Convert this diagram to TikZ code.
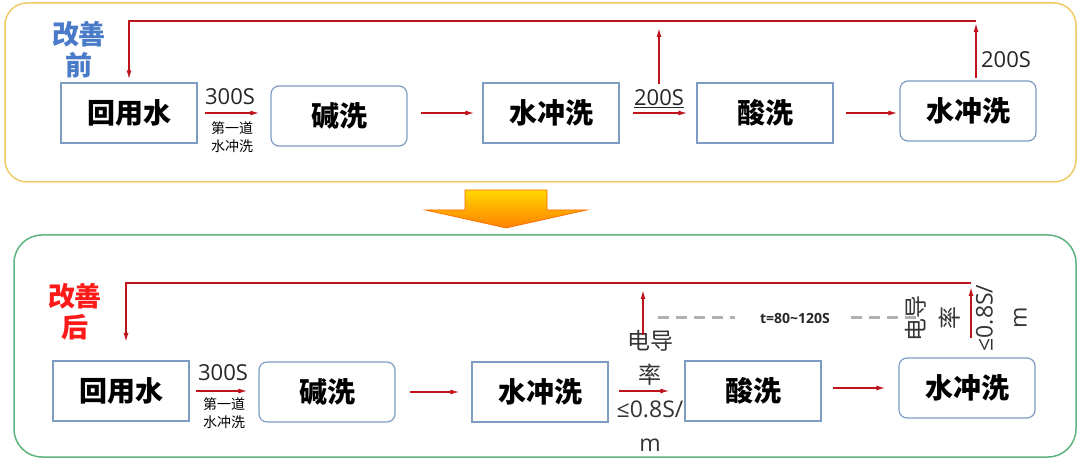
\documentclass[tikz,border=0pt]{standalone}
\usepackage{fontspec}
\newfontfamily\cjk{Noto Sans CJK SC}
\newfontfamily\lat{Open Sans}
\usetikzlibrary{arrows.meta}
\definecolor{gold}{HTML}{EFCB67}
\definecolor{leaf}{HTML}{5DB37E}
\definecolor{boxblue}{HTML}{7E9BC4}
\definecolor{arrred}{HTML}{C0141C}
\definecolor{labblue}{HTML}{4A7BC8}
\definecolor{labred}{HTML}{FF1A1A}
\tikzset{
  box/.style={draw=boxblue, line width=1.2pt, fill=white, minimum width=136pt, minimum height=60pt, inner sep=0pt, font=\cjk\bfseries\fontsize{28}{28}\selectfont},
  rbox/.style={box, rounded corners=8pt},
  flow/.style={draw=arrred, line width=1.4pt, -{Latex[length=9pt,width=5pt]}},
  lab/.style={font=\lat\fontsize{22}{22}\selectfont, text=black!85, inner sep=1pt},
  small/.style={font=\cjk\fontsize{14}{18}\selectfont, align=center, inner sep=0pt},
  cond/.style={font=\cjk\fontsize{23}{34}\selectfont, text=black!80, align=center, inner sep=0pt},
  dash line/.style={draw=black!30, line width=3pt, dash pattern=on 11pt off 7pt}
}
\begin{document}
\begin{tikzpicture}[x=1pt,y=-1pt]
  \useasboundingbox (0,0) rectangle (1080,465);
  \draw[gold, line width=1.5pt, rounded corners=22pt] (5,3) rectangle (1076,182);
  \draw[leaf, line width=1.5pt, rounded corners=28pt] (14,235) rectangle (1076,457);
  \shade[top color=yellow!70!orange, bottom color=orange, draw=orange!80!red, line width=0.6pt]
    (465,190) -- (547,190) -- (547,210) -- (587,210) -- (506,228) -- (425,210) -- (465,210) -- cycle;

  \node[font=\cjk\bfseries\fontsize{27}{31}\selectfont, text=labblue, align=center] (p1) at (79,50) {改善\\前};
  \node[font=\cjk\bfseries\fontsize{27}{31}\selectfont, text=labred, align=center] (p2) at (75,312) {改善\\后};

  \node[box]  (a1) at (129,113) {回用水};
  \node[rbox] (a2) at (339,116) {碱洗};
  \node[box]  (a3) at (551,113) {水冲洗};
  \node[box]  (a4) at (765,113) {酸洗};
  \node[rbox] (a5) at (968,111) {水冲洗};

  \node[box]  (b1) at (121,391) {回用水};
  \node[rbox] (b2) at (327,392) {碱洗};
  \node[box]  (b3) at (540,392) {水冲洗};
  \node[box]  (b4) at (753,391) {酸洗};
  \node[rbox] (b5) at (967,388) {水冲洗};

  \coordinate (f1) at (129,21);
  \coordinate (f2) at (976,21);
  \coordinate (u1) at (976,78);
  \coordinate (u2) at (659,84);
  \coordinate (g1) at (126,283);
  \coordinate (g2) at (971,283);
  \coordinate (g3) at (126,342);
  \coordinate (v1) at (971,338);
  \coordinate (v2) at (643,335);
  \coordinate (d1) at (658,318);
  \coordinate (d2) at (923,318);

  \node[lab] (l1) at (230,97) {300S};
  \node[small] (s1) at (232,137) {第一道\\水冲洗};
  \node[lab] (l2) at (659,99) {\underline{200S}};
  \node[lab] (l3) at (1006,60) {200S};
  \node[lab] (l4) at (223,373) {300S};
  \node[small] (s2) at (224,413) {第一道\\水冲洗};
  \node[font=\lat\bfseries\fontsize{14}{14}\selectfont, text=black!85] (t) at (795,318) {t=80\textasciitilde120S};
  \node[cond] (c1) at (650,391) {电导\\率\\{\lat ≤0.8S/}\\{\lat m}};
  \node[cond, rotate=90] (c2) at (966,318) {电导\\率\\{\lat ≤0.8S/}\\{\lat m}};

  \begin{scope}[flow]
    \draw[shorten <=7pt, shorten >=11pt] (a1) -- (a1 -| a2.west);
    \draw[shorten <=13pt, shorten >=8pt] (a2.east |- a3) -- (a3);
    \draw[shorten <=13pt, shorten >=9pt] (a3) -- (a4);
    \draw[shorten <=12pt, shorten >=2pt] (a4) -- (a5.west |- a4);
    \draw[shorten >=3pt] (f2) -| (a1);
    \draw[shorten >=2pt] (u1) -- (f2);
    \draw[shorten >=7pt] (u2) -- (u2 |- f2);
    \draw[shorten <=6pt, shorten >=11pt] (b1) -- (b1 -| b2.west);
    \draw[shorten <=14pt, shorten >=12pt] (b2) -- (b2 -| b3.west);
    \draw[shorten <=10pt, shorten >=15pt] (b3.east |- b4) -- (b4);
    \draw[shorten <=11pt, shorten >=13pt] (b4.east |- b5) -- (b5);
    \draw (g2) -- (g1) -- (g3);
    \draw[shorten >=4pt] (v1) -- (g2);
    \draw[shorten >=7pt] (v2) -- (v2 |- g2);
  \end{scope}
  \draw[dash line] (d1) -- ([xshift=-22pt]t.west);
  \draw[dash line] ([xshift=18pt]t.east) -- (d2);
\end{tikzpicture}
\end{document}
